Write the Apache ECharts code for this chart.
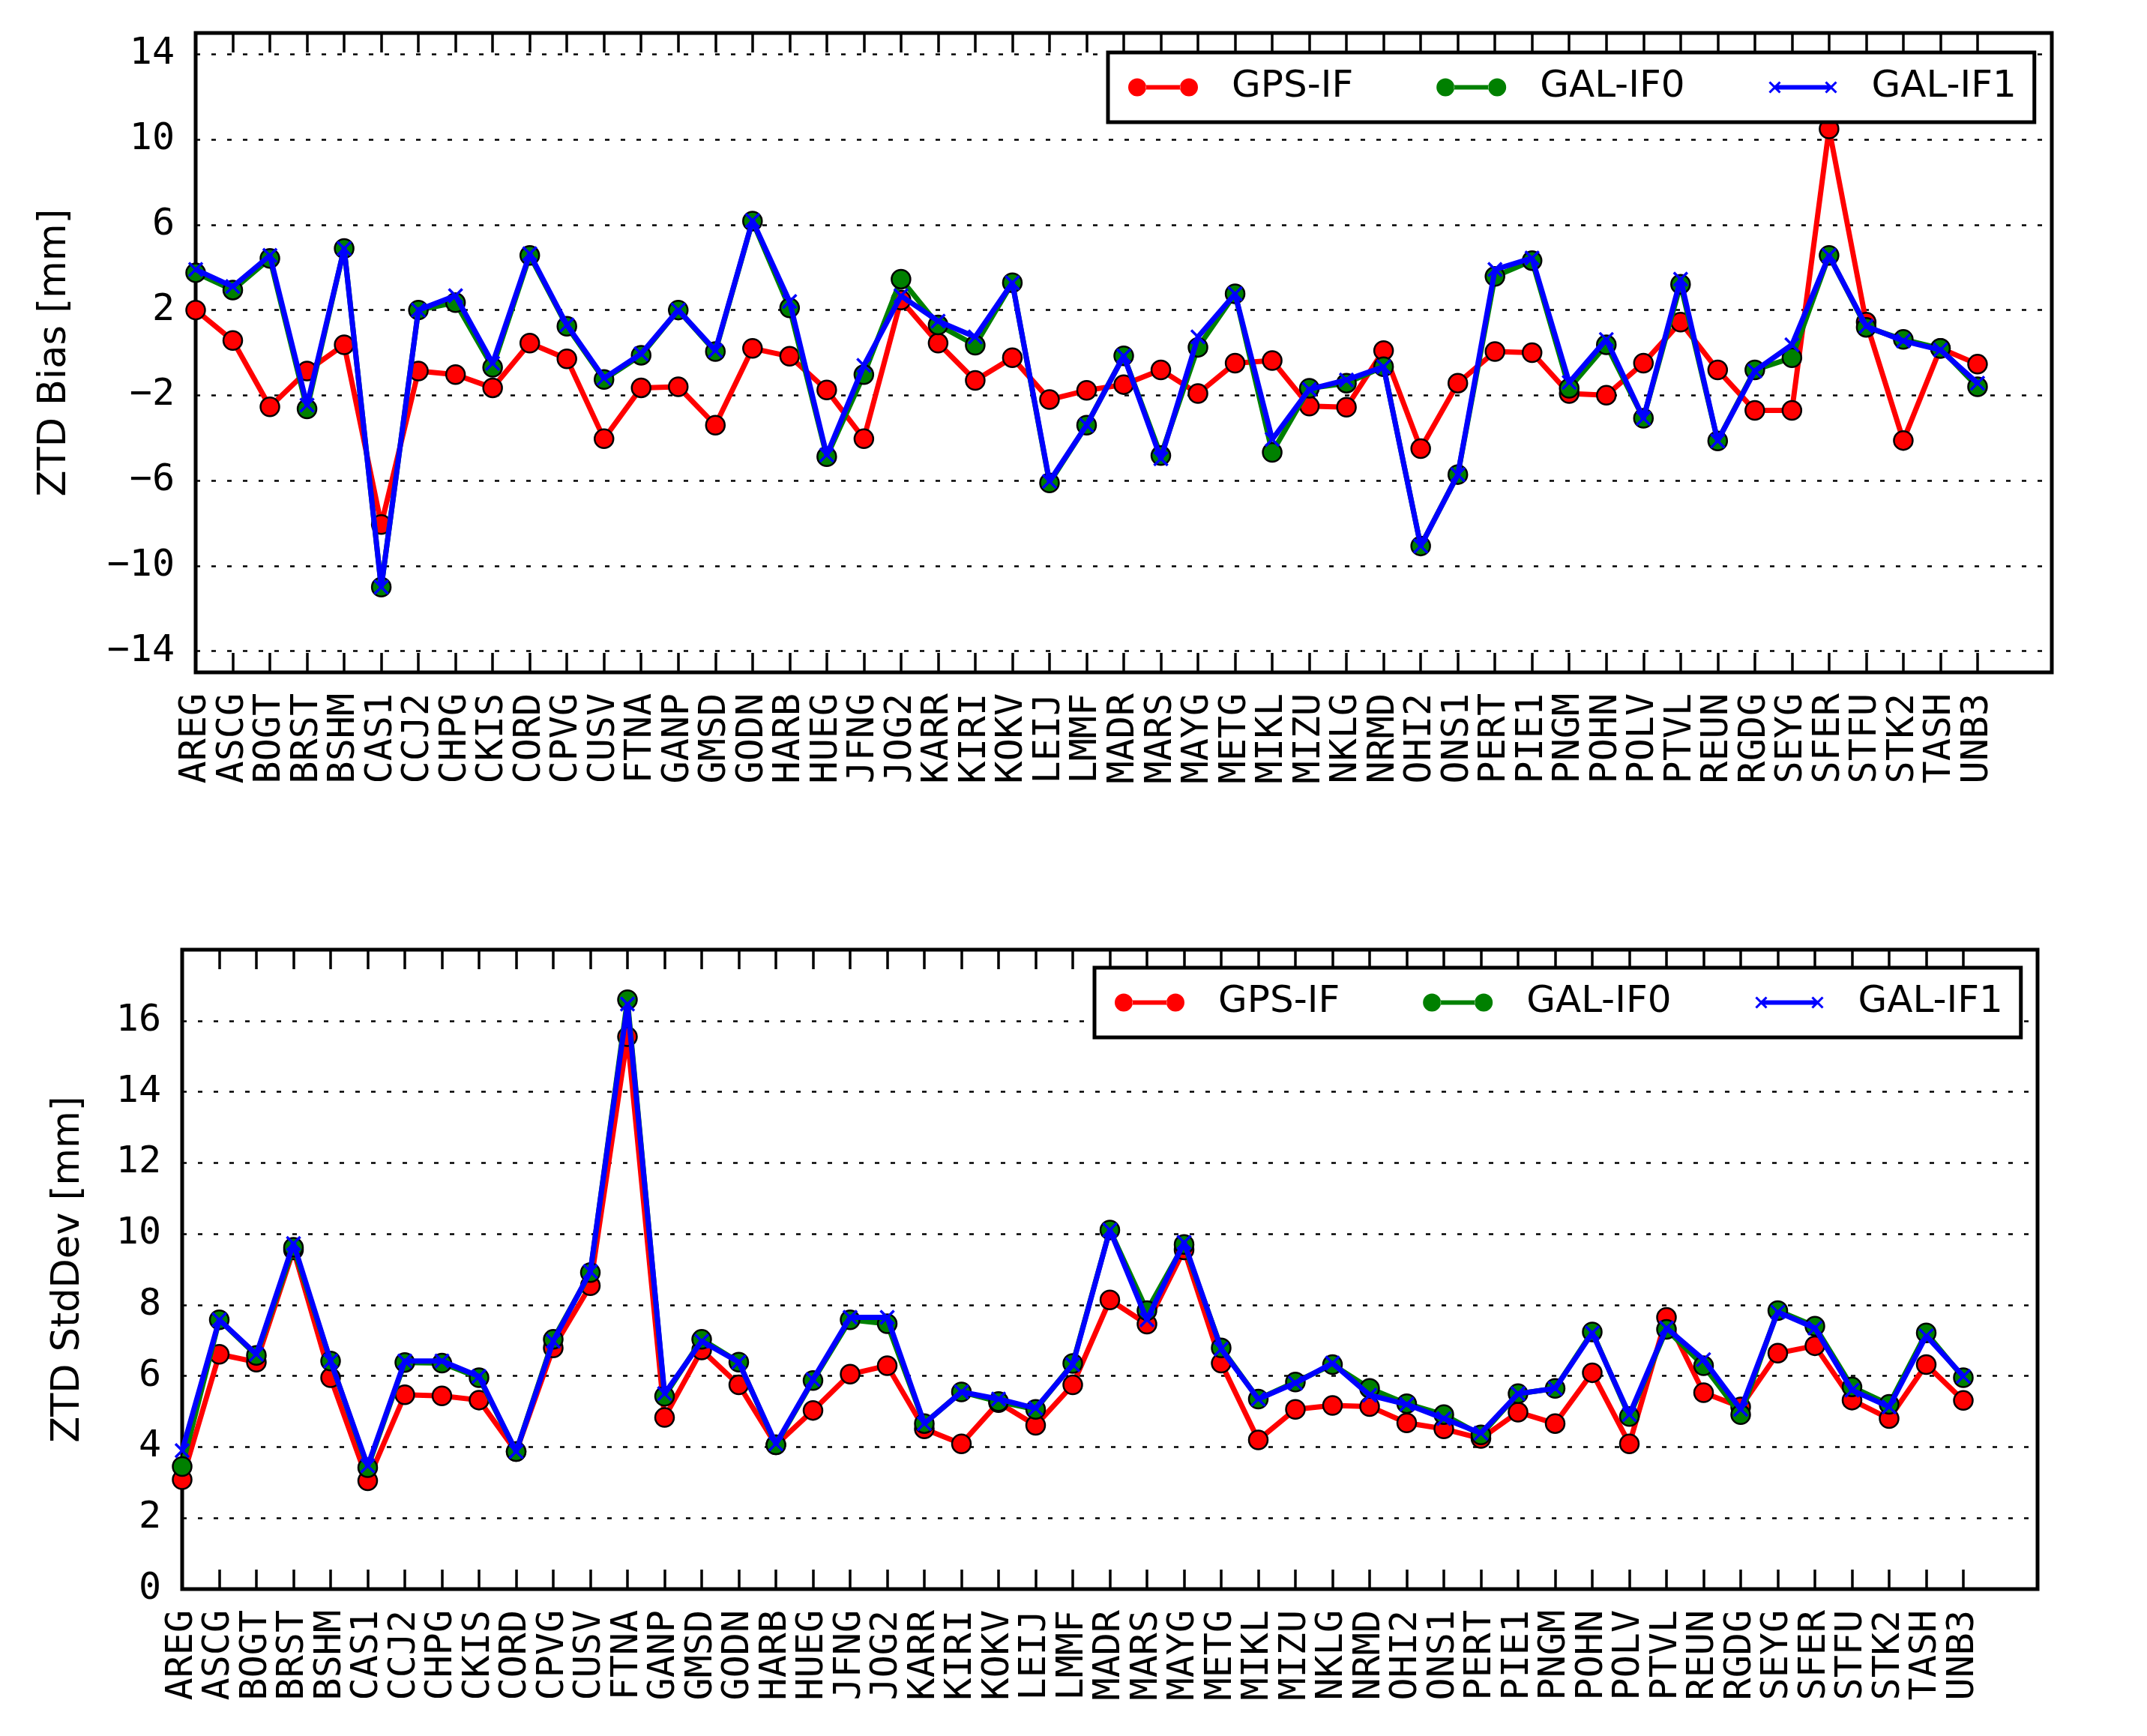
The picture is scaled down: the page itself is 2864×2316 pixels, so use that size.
<!DOCTYPE html>
<html>
<head>
<meta charset="utf-8">
<script src="https://cdn.jsdelivr.net/npm/echarts@6/dist/echarts.min.js"></script>
<style>
  html, body { margin: 0; padding: 0; background: #fff; }
  #chart { width: 2864px; height: 2316px; }
</style>
</head>
<body>
<div id="chart"></div>
<script>
// stations on the x axis
const stations = ['AREG','ASCG','BOGT','BRST','BSHM','CAS1','CCJ2','CHPG','CKIS','CORD','CPVG','CUSV','FTNA',
  'GANP','GMSD','GODN','HARB','HUEG','JFNG','JOG2','KARR','KIRI','KOKV','LEIJ','LMMF','MADR','MARS','MAYG',
  'METG','MIKL','MIZU','NKLG','NRMD','OHI2','ONS1','PERT','PIE1','PNGM','POHN','POLV','PTVL','REUN','RGDG',
  'SEYG','SFER','STFU','STK2','TASH','UNB3'];

// ZTD bias [mm]
const biasGps = [2.0, 0.57, -2.54, -0.86, 0.37, -8.06, -0.86, -1.03, -1.65, 0.45, -0.29, -4.04, -1.65, -1.6, -3.4, 0.2,
  -0.17, -1.75, -4.04, 2.47, 0.45, -1.3, -0.24, -2.2, -1.77, -1.5, -0.81, -1.92, -0.49, -0.37, -2.51, -2.56, 0.1, -4.5,
  -1.43, 0.05, 0.0, -1.92, -2.0, -0.49, 1.43, -0.81, -2.71, -2.71, 10.5, 1.43, -4.12, 0.2, -0.54];
const biasGal0 = [3.75, 2.94, 4.42, -2.64, 4.89, -11.0, 2.0, 2.35, -0.69, 4.56, 1.24, -1.26, -0.12, 2.0, 0.05, 6.17,
  2.1, -4.88, -1.03, 3.45, 1.3, 0.35, 3.28, -6.11, -3.4, -0.15, -4.83, 0.25, 2.76, -4.68, -1.67, -1.43, -0.66, -9.07,
  -5.72, 3.58, 4.32, -1.67, 0.37, -3.08, 3.21, -4.14, -0.81, -0.24, 4.56, 1.19, 0.62, 0.2, -1.6];
const biasGal1 = [3.9, 3.1, 4.56, -2.46, 4.89, -11.0, 2.0, 2.67, -0.5, 4.64, 1.3, -1.2, -0.05, 2.0, 0.1, 6.2,
  2.4, -4.8, -0.6, 2.67, 1.48, 0.74, 3.28, -6.04, -3.4, -0.15, -4.98, 0.74, 2.76, -4.07, -1.72, -1.28, -0.66, -9.07,
  -5.72, 3.9, 4.44, -1.4, 0.62, -3.08, 3.45, -4.14, -0.86, 0.37, 4.56, 1.24, 0.55, 0.13, -1.43];

// ZTD standard deviation [mm]
const stdGps = [3.08, 6.61, 6.39, 9.55, 5.95, 3.05, 5.47, 5.44, 5.32, 3.87, 6.79, 8.54, 15.55, 4.83, 6.73, 5.75,
  4.06, 5.03, 6.05, 6.29, 4.51, 4.09, 5.25, 4.61, 5.75, 8.14, 7.46, 9.55, 6.36, 4.2, 5.06, 5.17, 5.14, 4.68,
  4.51, 4.24, 4.98, 4.66, 6.09, 4.09, 7.65, 5.53, 5.13, 6.64, 6.85, 5.32, 4.8, 6.32, 5.31];
const stdGal0 = [3.45, 7.58, 6.58, 9.62, 6.42, 3.42, 6.38, 6.36, 5.95, 3.87, 7.03, 8.91, 16.59, 5.43, 7.03, 6.39,
  4.06, 5.87, 7.58, 7.47, 4.66, 5.55, 5.28, 5.06, 6.35, 10.11, 7.84, 9.7, 6.79, 5.35, 5.83, 6.32, 5.65, 5.22,
  4.91, 4.34, 5.5, 5.65, 7.24, 4.86, 7.31, 6.29, 4.91, 7.84, 7.4, 5.69, 5.2, 7.21, 5.95];
const stdGal1 = [3.9, 7.58, 6.61, 9.73, 6.42, 3.47, 6.42, 6.42, 5.99, 3.87, 6.98, 8.94, 16.47, 5.5, 6.98, 6.39,
  4.09, 5.9, 7.65, 7.65, 4.66, 5.55, 5.35, 5.09, 6.32, 10.11, 7.58, 9.76, 6.76, 5.35, 5.8, 6.36, 5.46, 5.2,
  4.8, 4.39, 5.5, 5.65, 7.21, 4.91, 7.35, 6.46, 5.06, 7.8, 7.35, 5.6, 5.13, 7.13, 5.99];

const biasTicks = [-14, -10, -6, -2, 2, 6, 10, 14];
const seriesNames = ['GPS-IF', 'GAL-IF0', 'GAL-IF1'];

const MONO = 'DejaVu Sans Mono';
const SANS = 'DejaVu Sans';

// x axis runs one category past UNB3 plus a blank one, like the original
const xCats = stations.concat(['', '']);

// legend keys: two markers joined by a line
const dotIcon = 'path://M0,12a12,12 0 1,0 24,0a12,12 0 1,0 -24,0zM69,12a12,12 0 1,0 24,0a12,12 0 1,0 -24,0zM23.5,9L69.5,9L69.5,15L23.5,15z';
const crossIcon = 'path://M0,0L0.01,0zM93,24L92.99,24z' +
  'M9,9L84,9L84,15L9,15z' +
  'M3.1,3.9L17.1,17.9L14.9,20.1L0.9,6.1zM0.9,17.9L14.9,3.9L17.1,6.1L3.1,20.1z' +
  'M78.1,3.9L92.1,17.9L89.9,20.1L75.9,6.1zM75.9,17.9L89.9,3.9L92.1,6.1L78.1,20.1z';

const minus = v => (v < 0 ? '\u2212' + (-v) : String(v));

const tickStyle = { color: '#000', width: 3.5 };

function xAxes(grid) {
  return [
    {
      gridIndex: grid, type: 'category', data: xCats, boundaryGap: false, position: 'bottom',
      axisLine: { show: false, onZero: false },
      axisTick: { inside: true, length: 26, lineStyle: tickStyle, interval: i => i < stations.length },
      axisLabel: { interval: 0, rotate: 90, margin: 28, fontFamily: MONO, fontSize: 50, color: '#000' },
      splitLine: { show: false }
    },
    {
      gridIndex: grid, type: 'category', data: xCats, boundaryGap: false, position: 'top',
      axisLine: { show: false, onZero: false },
      axisTick: { inside: true, length: 26, lineStyle: tickStyle, interval: i => i < stations.length },
      axisLabel: { show: false },
      splitLine: { show: false }
    }
  ];
}

const gridLine = { show: true, lineStyle: { color: '#000', width: 2.5, type: [6, 15] } };

function legend(left, top) {
  return {
    left: left, top: top, orient: 'horizontal', z: 10,
    backgroundColor: '#fff', borderColor: '#000', borderWidth: 5, borderRadius: 0,
    padding: [21, 24, 21, 27],
    itemWidth: 93, itemHeight: 24, itemGap: 111, symbolKeepAspect: false,
    itemStyle: { borderWidth: 0 },
    textStyle: { fontFamily: SANS, fontSize: 50, color: '#000', lineHeight: 51, padding: [0, 0, 0, 40] },
    data: [
      { name: seriesNames[0], icon: dotIcon },
      { name: seriesNames[1], icon: dotIcon },
      { name: seriesNames[2], icon: crossIcon }
    ],
    selectedMode: false
  };
}

function dotSeries(name, data, color, x, y, z) {
  return {
    name: name, type: 'line', data: data, xAxisIndex: x, yAxisIndex: y, z: z,
    symbol: 'circle', symbolSize: 25,
    lineStyle: { color: color, width: 7 },
    itemStyle: { color: color, borderColor: '#000', borderWidth: 2.5 }
  };
}

function crossSeries(name, data, color, x, y, z) {
  return {
    name: name, type: 'line', data: data, xAxisIndex: x, yAxisIndex: y, z: z,
    symbol: 'path://M0,0L10,10M10,0L0,10', symbolSize: 18,
    lineStyle: { color: color, width: 7 },
    itemStyle: { color: color, borderColor: color, borderWidth: 3.5 }
  };
}

function yName(text, gap) {
  return {
    name: text, nameLocation: 'middle', nameRotate: 90, nameGap: gap,
    nameTextStyle: { fontFamily: SANS, fontSize: 51, color: '#000' }
  };
}

const chart = echarts.init(document.getElementById('chart'), null, { renderer: 'canvas' });

chart.setOption({
  animation: false,
  backgroundColor: '#fff',
  grid: [
    { left: 261, top: 44, width: 2476, height: 853, show: true, borderColor: '#000', borderWidth: 5, backgroundColor: 'transparent' },
    { left: 243, top: 1267, width: 2475, height: 853, show: true, borderColor: '#000', borderWidth: 5, backgroundColor: 'transparent' }
  ],
  legend: [legend(1478, 70), legend(1460, 1291)],
  xAxis: xAxes(0).concat(xAxes(1)),
  yAxis: [
    Object.assign(yName('ZTD Bias [mm]', 162), {
      gridIndex: 0, type: 'value', min: -15, max: 15, position: 'left',
      axisLine: { show: false },
      axisTick: { inside: true, length: 26, lineStyle: tickStyle, customValues: biasTicks },
      axisLabel: { customValues: biasTicks, formatter: minus, margin: 28, fontFamily: MONO, fontSize: 50, color: '#000' },
      splitLine: gridLine
    }),
    {
      gridIndex: 0, type: 'value', min: -15, max: 15, position: 'right',
      axisLine: { show: false },
      axisTick: { inside: true, length: 26, lineStyle: tickStyle, customValues: biasTicks },
      axisLabel: { show: false },
      splitLine: { show: false }
    },
    Object.assign(yName('ZTD StdDev [mm]', 126), {
      gridIndex: 1, type: 'value', min: 0, max: 18, interval: 2, position: 'left',
      axisLine: { show: false },
      axisTick: { inside: true, length: 26, lineStyle: tickStyle },
      axisLabel: { formatter: v => (v >= 18 ? '' : String(v)), margin: 28, fontFamily: MONO, fontSize: 50, color: '#000' },
      splitLine: gridLine
    }),
    {
      gridIndex: 1, type: 'value', min: 0, max: 18, interval: 2, position: 'right',
      axisLine: { show: false },
      axisTick: { inside: true, length: 26, lineStyle: tickStyle },
      axisLabel: { show: false },
      splitLine: { show: false }
    }
  ],
  series: [
    dotSeries(seriesNames[0], biasGps, '#ff0000', 0, 0, 2),
    dotSeries(seriesNames[1], biasGal0, '#008000', 0, 0, 3),
    crossSeries(seriesNames[2], biasGal1, '#0000ff', 0, 0, 4),
    dotSeries(seriesNames[0], stdGps, '#ff0000', 2, 2, 2),
    dotSeries(seriesNames[1], stdGal0, '#008000', 2, 2, 3),
    crossSeries(seriesNames[2], stdGal1, '#0000ff', 2, 2, 4)
  ]
});
</script>
</body>
</html>
